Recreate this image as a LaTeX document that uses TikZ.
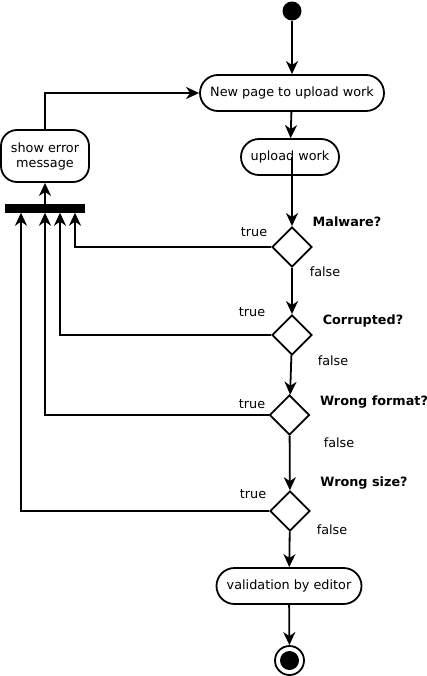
\documentclass[tikz,border=0pt]{standalone}
\usepackage{fontspec}
\setmainfont{DejaVu Sans}
\usetikzlibrary{shapes.geometric,arrows.meta,calc}
\begin{document}
\begin{tikzpicture}[x=1pt,y=-1pt,
  every node/.style={font=\fontsize{12.8}{15}\selectfont},
  act/.style={draw,line width=1.8pt,rounded corners=18pt,minimum height=36pt,inner sep=0pt,fill=white},
  dec/.style={draw,diamond,line width=1.8pt,minimum width=40pt,minimum height=40pt,inner sep=0pt,fill=white},
  lbl/.style={inner sep=0pt,font=\fontsize{12.8}{15}\selectfont\bfseries},
  txt/.style={inner sep=0pt},
  conn/.style={line width=1.8pt,-{Stealth[length=13pt,width=12pt,inset=4pt]}},
  plain/.style={line width=1.8pt}]
\useasboundingbox (0,0) rectangle (427,676);
\node[circle,fill,minimum size=19pt,inner sep=0pt] (start) at (292,11) {};
\node[act,minimum width=184pt] (newpage) at (292,93) {New page to upload work};
\node[act,minimum width=98pt] (upload) at (290,157) {upload work};
\node[dec] (malware) at (292,247) {};
\node[dec] (corrupt) at (292,335) {};
\node[dec] (format) at (289.5,415) {};
\node[dec] (size) at (290,511) {};
\node[act,minimum width=145pt] (valid) at (289,586) {validation by editor};
\node[circle,draw,line width=1.8pt,minimum size=29pt,inner sep=0pt] (end) at (289.5,660.5) {};
\node[circle,fill,minimum size=19pt,inner sep=0pt] (endin) at (end.center) {};
\node[fill,minimum width=80pt,minimum height=8pt,inner sep=0pt] (bar) at (45,208.5) {};
\node[act,rounded corners=16pt,minimum width=88pt,minimum height=52pt,align=center] (err) at (45,156) {show error\\message};
% labels
\node[lbl] (lm) at (347,222) {Malware?};
\node[lbl] (lc) at (363,321) {Corrupted?};
\node[lbl] (lf) at (374,402) {Wrong format?};
\node[lbl] (ls) at (364,483) {Wrong size?};
\node[txt] (t1) at (254,232) {true};
\node[txt] (f1) at (325,272) {false};
\node[txt] (t2) at (252,312) {true};
\node[txt] (f2) at (333,361) {false};
\node[txt] (t3) at (252,404) {true};
\node[txt] (f3) at (339,443) {false};
\node[txt] (t4) at (253,494) {true};
\node[txt] (f4) at (332,530) {false};
% connectors
\draw[conn] (start) -- (newpage);
\draw[conn] (newpage) -- (upload);
\draw[conn] (upload.center -| malware.north) -- (malware.north);
\draw[conn] (malware) -- (corrupt);
\draw[conn] (corrupt) -- (format);
\draw[conn] (format) -- (size);
\draw[conn] (size) -- (valid);
\draw[conn] (valid) -- (end);
\draw[conn] (malware.west) -| ([xshift=30pt]bar.south);
\draw[conn] (corrupt.west) -| ([xshift=15pt]bar.south);
\draw[conn] (format.west) -| (bar.south);
\draw[conn] (size.west) -| ([xshift=-24pt]bar.south);
\draw[conn] (bar) -- (err);
\draw[conn] (err.north) |- (newpage.west);
\end{tikzpicture}
\end{document}
